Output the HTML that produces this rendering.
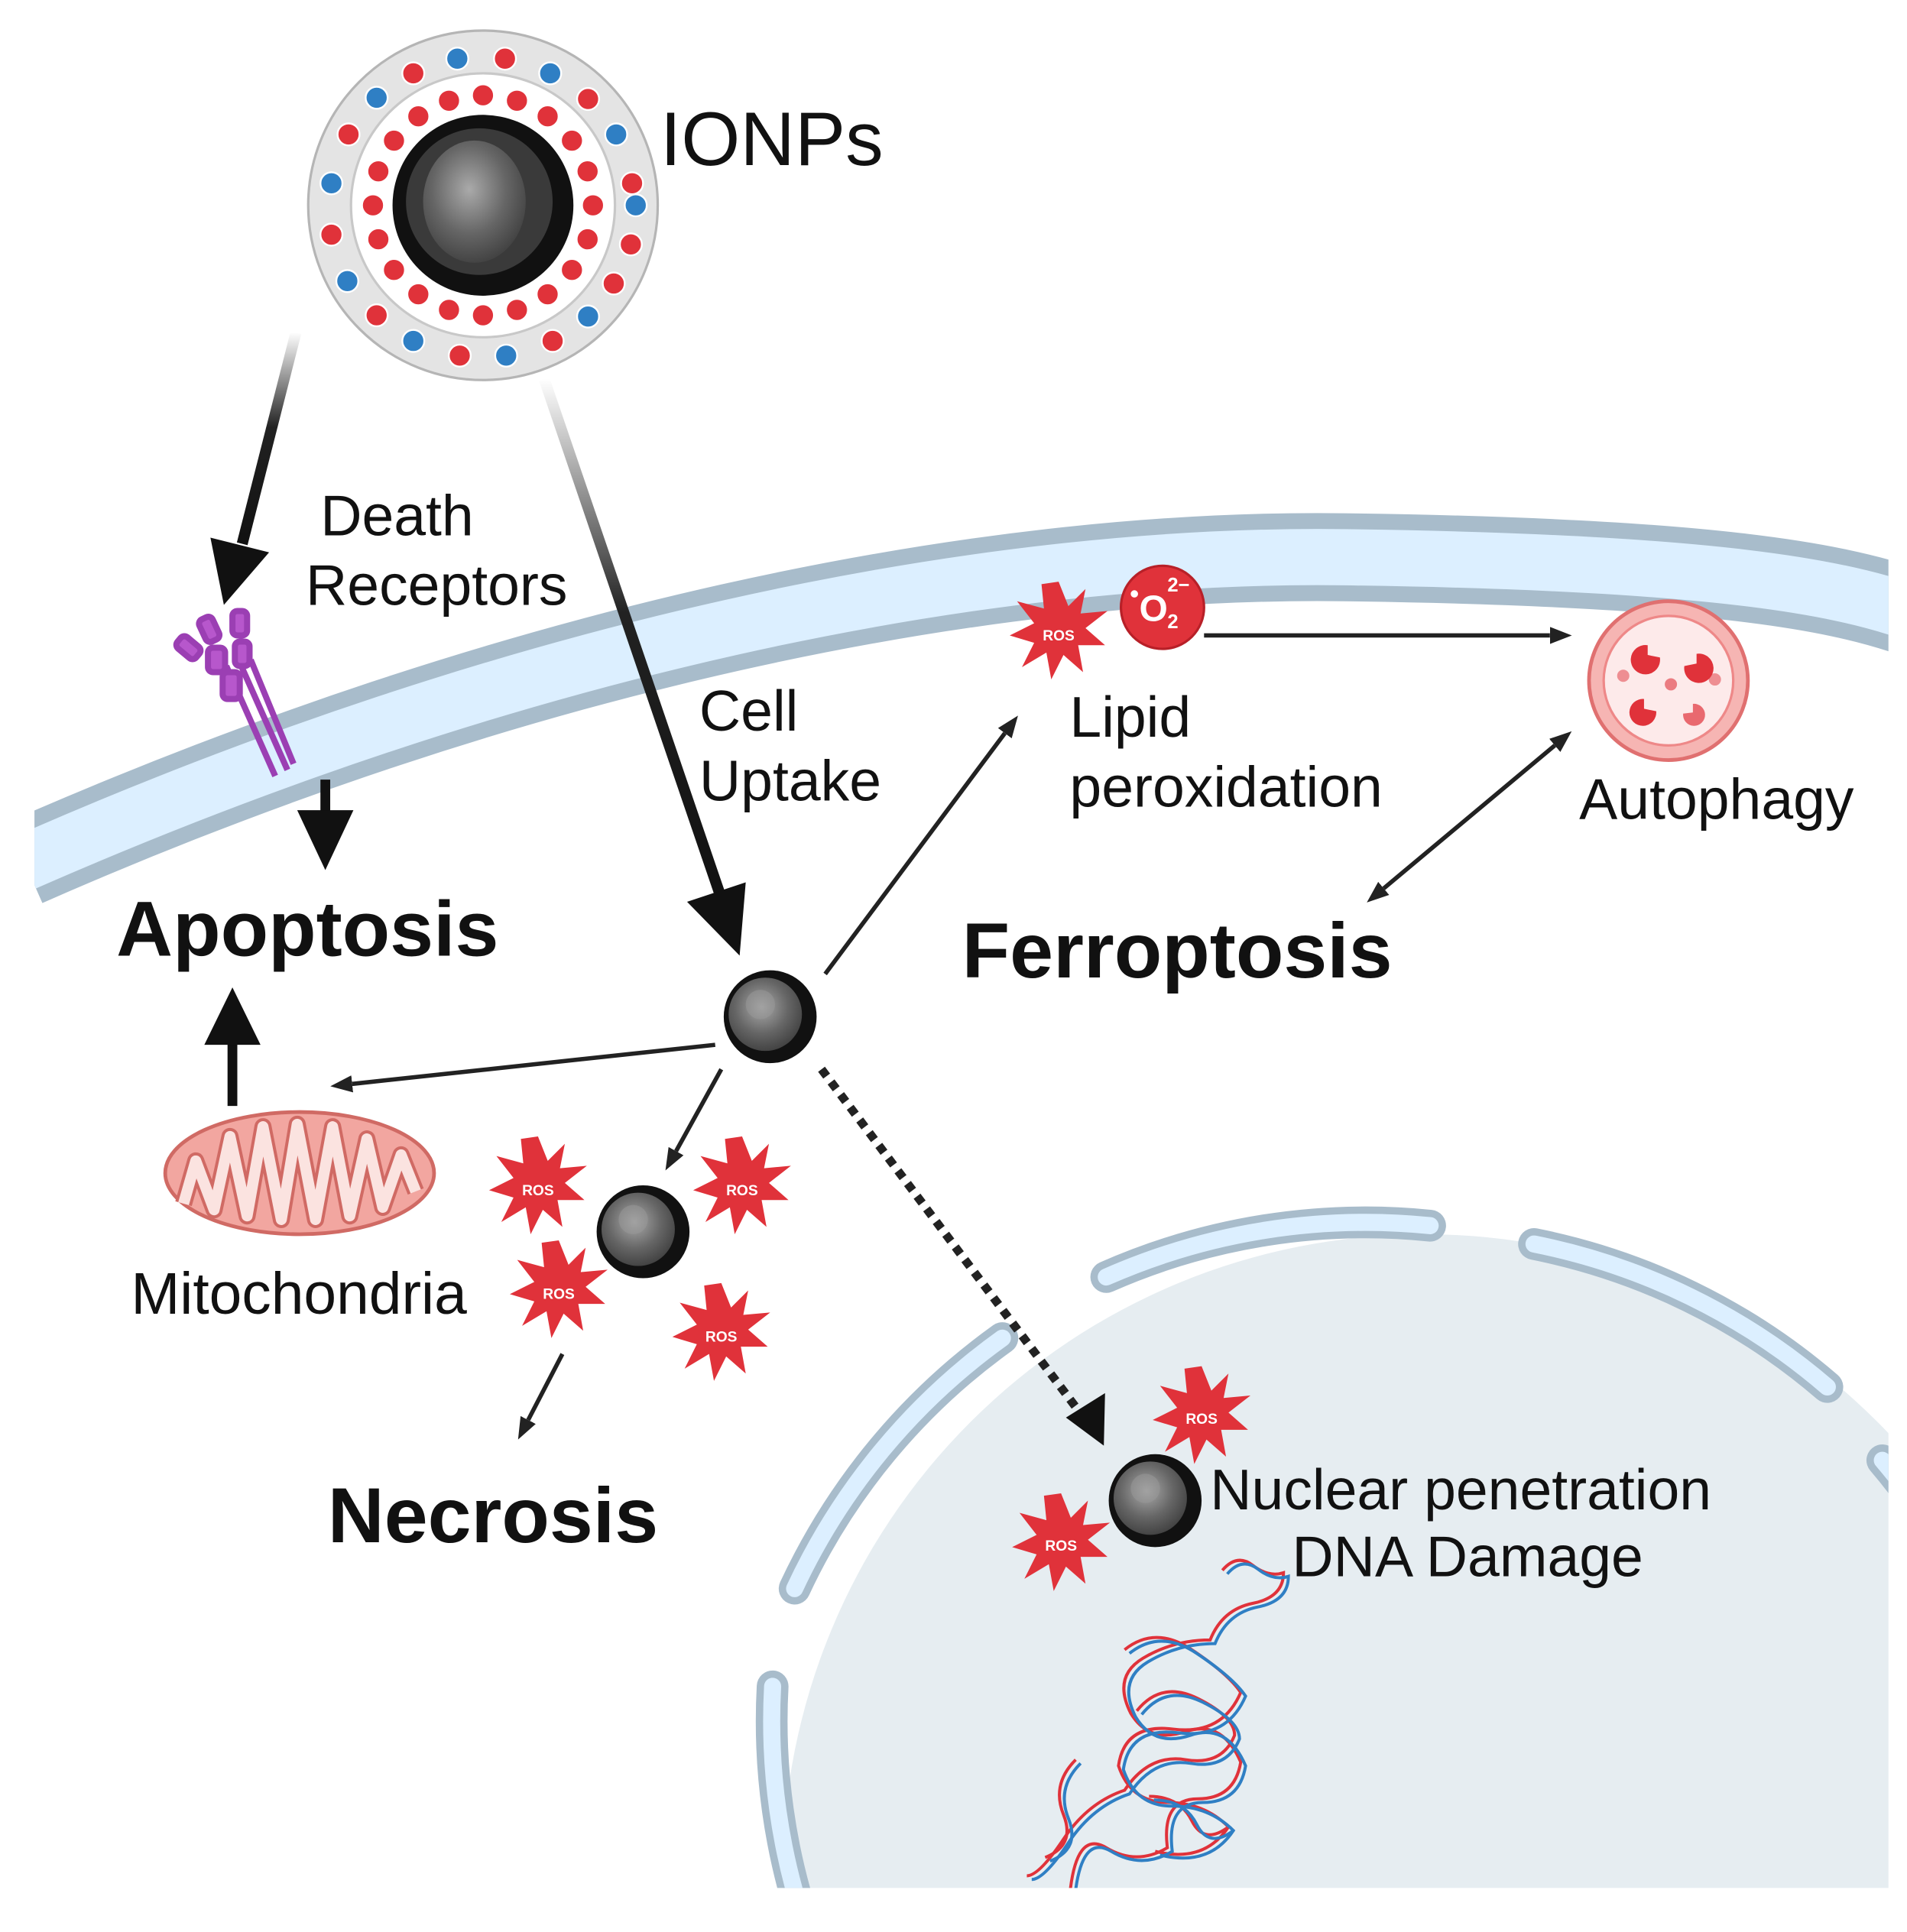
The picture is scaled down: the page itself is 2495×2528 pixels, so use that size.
<!DOCTYPE html>
<html><head><meta charset="utf-8"><style>
html,body{margin:0;padding:0;background:#fff;overflow:hidden}
svg{display:block}
text{font-family:"Liberation Sans",Arial,sans-serif;fill:#111}
</style></head><body>
<svg width="2495" height="2528" viewBox="0 0 1560 1581" xmlns="http://www.w3.org/2000/svg">
<defs>
<clipPath id="frame"><rect x="28" y="0" width="1517" height="1545"/></clipPath>
<linearGradient id="g1" x1="0" y1="0" x2="0" y2="1"><stop offset="0" stop-color="#fff"/><stop offset="0.45" stop-color="#222"/><stop offset="1" stop-color="#111"/></linearGradient>
<radialGradient id="np" cx="0.45" cy="0.4" r="0.6"><stop offset="0" stop-color="#aaa"/><stop offset="0.6" stop-color="#666"/><stop offset="1" stop-color="#444"/></radialGradient>
<marker id="ahs" markerWidth="18" markerHeight="14" refX="0" refY="7" orient="auto-start-reverse" markerUnits="userSpaceOnUse"><path d="M0,0 L18,7 L0,14 Z" fill="#222"/></marker>
<g id="star"><polygon points="0,-40 8,-20 22,-34 18,-14 40,-16 22,-2 38,12 16,12 20,34 4,20 -6,40 -10,18 -30,30 -20,10 -40,4 -20,-6 -34,-24 -12,-18 -14,-38" fill="#e0323a"/></g>
<g id="nps"><circle r="38" fill="#111"/><circle r="30" cx="-4" cy="-2" fill="url(#np)"/><circle r="12" cx="-8" cy="-10" fill="#999" opacity="0.5"/></g>
<path id="helix" d="M0 0 q4 -7 8 0 t8 0 t8 0 t8 0 t8 0 t8 0 t8 0 t8 0" fill="none"/>
</defs>
<rect width="1560" height="1581" fill="#fff"/>
<g clip-path="url(#frame)">
<circle cx="1165" cy="1535" r="525" fill="#e6edf1"/>
<g fill="none" stroke-linecap="round">
<g stroke="#a8bccb" stroke-width="26">
<path d="M650 1300 A525 525 0 0 1 820 1095"/>
<path d="M905 1045 A525 525 0 0 1 1170 1003"/>
<path d="M1255 1018 A525 525 0 0 1 1495 1135"/>
<path d="M1540 1195 A525 525 0 0 1 1560 1220"/>
<path d="M632 1380 A525 525 0 0 0 660 1580"/>
</g>
<g stroke="#dcefff" stroke-width="14">
<path d="M650 1300 A525 525 0 0 1 820 1095"/>
<path d="M905 1045 A525 525 0 0 1 1170 1003"/>
<path d="M1255 1018 A525 525 0 0 1 1495 1135"/>
<path d="M1540 1195 A525 525 0 0 1 1560 1220"/>
<path d="M632 1380 A525 525 0 0 0 660 1580"/>
</g>
</g>
<path d="M20 706 C 420 530, 800 452, 1100 456 S 1500 480, 1560 500" fill="none" stroke="#a8bccb" stroke-width="72"/>
<path d="M20 706 C 420 530, 800 452, 1100 456 S 1500 480, 1560 500" fill="none" stroke="#dcefff" stroke-width="46"/>
<!-- DNA tangle -->
<g stroke-width="2.5" fill="none">
<g stroke="#e0323a">
<path d="M1000 1285 q12 -14 25 -4 t25 6 q0 20 -25 25 t-35 30 q-30 0 -55 15 t-10 45 q15 25 45 15 t45 25 q-5 30 -35 30 t-25 40 q-25 15 -50 0 t-30 40 q-15 25 -20 45 t-25 25"/>
<path d="M930 1400 q20 -25 50 -10 t30 30 q-10 25 -40 20 t-50 25 q-30 10 -50 40 t-30 30"/>
<path d="M920 1350 q25 -20 55 0 t40 35 q-15 35 -55 30 t-45 30 q10 30 40 30 t50 20 q-20 30 -60 20"/>
<path d="M880 1440 q-20 20 -10 45 t-15 35 M940 1470 q25 0 35 20 t30 5"/>
</g>
<g stroke="#2f7fc4" transform="translate(4,3)">
<path d="M1000 1285 q12 -14 25 -4 t25 6 q0 20 -25 25 t-35 30 q-30 0 -55 15 t-10 45 q15 25 45 15 t45 25 q-5 30 -35 30 t-25 40 q-25 15 -50 0 t-30 40 q-15 25 -20 45 t-25 25"/>
<path d="M930 1400 q20 -25 50 -10 t30 30 q-10 25 -40 20 t-50 25 q-30 10 -50 40 t-30 30"/>
<path d="M920 1350 q25 -20 55 0 t40 35 q-15 35 -55 30 t-45 30 q10 30 40 30 t50 20 q-20 30 -60 20"/>
<path d="M880 1440 q-20 20 -10 45 t-15 35 M940 1470 q25 0 35 20 t30 5"/>
</g>
</g>
</g>
<!-- big IONP -->
<circle cx="395" cy="168" r="143" fill="#e4e4e4" stroke="#b5b5b5" stroke-width="2"/>
<circle cx="395" cy="168" r="108" fill="#fff" stroke="#c8c8c8" stroke-width="2"/>
<circle cx="395" cy="168" r="74" fill="#111"/>
<circle cx="392" cy="165" r="60" fill="#3a3a3a"/>
<ellipse cx="388" cy="165" rx="42" ry="50" fill="url(#np)"/>
<g fill="#e0323a" stroke="#fff" stroke-width="1.5">
<circle cx="485" cy="168" r="9"/><circle cx="480.6" cy="195.8" r="9"/><circle cx="467.8" cy="220.9" r="9"/><circle cx="447.9" cy="240.8" r="9"/><circle cx="422.8" cy="253.6" r="9"/><circle cx="395" cy="258" r="9"/><circle cx="367.2" cy="253.6" r="9"/><circle cx="342.1" cy="240.8" r="9"/><circle cx="322.2" cy="220.9" r="9"/><circle cx="309.4" cy="195.8" r="9"/><circle cx="305" cy="168" r="9"/><circle cx="309.4" cy="140.2" r="9"/><circle cx="322.2" cy="115.1" r="9"/><circle cx="342.1" cy="95.2" r="9"/><circle cx="367.2" cy="82.4" r="9"/><circle cx="395" cy="78" r="9"/><circle cx="422.8" cy="82.4" r="9"/><circle cx="447.9" cy="95.2" r="9"/><circle cx="467.8" cy="115.1" r="9"/><circle cx="480.6" cy="140.2" r="9"/>
</g>
<g stroke="#fff" stroke-width="1.5">
<circle cx="520" cy="168" r="9" fill="#2f7fc4"/><circle cx="516" cy="200" r="9" fill="#e0323a"/><circle cx="502" cy="232" r="9" fill="#e0323a"/><circle cx="481" cy="259" r="9" fill="#2f7fc4"/><circle cx="452" cy="279" r="9" fill="#e0323a"/><circle cx="414" cy="291" r="9" fill="#2f7fc4"/><circle cx="376" cy="291" r="9" fill="#e0323a"/><circle cx="338" cy="279" r="9" fill="#2f7fc4"/><circle cx="308" cy="258" r="9" fill="#e0323a"/><circle cx="284" cy="230" r="9" fill="#2f7fc4"/><circle cx="271" cy="192" r="9" fill="#e0323a"/><circle cx="271" cy="150" r="9" fill="#2f7fc4"/><circle cx="285" cy="110" r="9" fill="#e0323a"/><circle cx="308" cy="80" r="9" fill="#2f7fc4"/><circle cx="338" cy="60" r="9" fill="#e0323a"/><circle cx="374" cy="48" r="9" fill="#2f7fc4"/><circle cx="413" cy="48" r="9" fill="#e0323a"/><circle cx="450" cy="60" r="9" fill="#2f7fc4"/><circle cx="481" cy="81" r="9" fill="#e0323a"/><circle cx="504" cy="110" r="9" fill="#2f7fc4"/><circle cx="517" cy="150" r="9" fill="#e0323a"/>
</g>
<text x="540" y="135" font-size="62">IONPs</text>
<path d="M242 272 L198 445" stroke="url(#g1)" stroke-width="9" fill="none"/>
<polygon points="172,440 220,452 183,495" fill="#111"/>
<path d="M445 310 L590 735" stroke="url(#g1)" stroke-width="9" fill="none"/>
<polygon points="562,738 610,722 605,782" fill="#111"/>
<text x="262" y="438" font-size="47">Death</text>
<text x="250" y="495" font-size="47">Receptors</text>
<text x="572" y="598" font-size="47">Cell</text>
<text x="572" y="655" font-size="47">Uptake</text>
<g stroke="#9b3fb3" stroke-width="5" fill="#b757cc">
<line x1="185" y1="545" x2="225" y2="635"/><line x1="195" y1="540" x2="235" y2="630"/><line x1="205" y1="540" x2="240" y2="625"/>
<rect x="165" y="505" width="12" height="20" rx="4" transform="rotate(-25 171 515)"/>
<rect x="190" y="500" width="12" height="20" rx="4"/>
<rect x="148" y="520" width="12" height="20" rx="4" transform="rotate(-50 154 530)"/>
<rect x="170" y="530" width="14" height="20" rx="4"/>
<rect x="192" y="525" width="12" height="20" rx="4"/>
<rect x="182" y="550" width="14" height="22" rx="4"/>
</g>
<line x1="266" y1="638" x2="266" y2="665" stroke="#111" stroke-width="8"/>
<polygon points="243,663 289,663 266,712" fill="#111"/>
<line x1="190" y1="905" x2="190" y2="850" stroke="#111" stroke-width="8"/>
<polygon points="167,855 213,855 190,808" fill="#111"/>
<text x="95" y="782" font-size="64" font-weight="bold">Apoptosis</text>
<g stroke="#222" stroke-width="3.5" fill="none">
<line x1="675" y1="797" x2="822" y2="600" marker-end="url(#ahs)"/>
<line x1="985" y1="520" x2="1268" y2="520" marker-end="url(#ahs)"/>
<line x1="1132" y1="727" x2="1272" y2="610" marker-end="url(#ahs)" marker-start="url(#ahs)"/>
<line x1="585" y1="855" x2="288" y2="887" marker-end="url(#ahs)"/>
<line x1="590" y1="875" x2="553" y2="942" marker-end="url(#ahs)"/>
<line x1="460" y1="1108" x2="432" y2="1162" marker-end="url(#ahs)"/>
<line x1="672" y1="875" x2="888" y2="1162" stroke-width="7" stroke-dasharray="7,6"/>
</g>
<polygon points="872,1160 904,1140 903,1183" fill="#111"/>
<use href="#nps" x="630" y="832"/>
<use href="#nps" x="526" y="1008"/>
<use href="#nps" x="945" y="1228"/>
<g font-size="12" font-weight="bold" text-anchor="middle">
<use href="#star" x="440" y="970"/><text x="440" y="978" style="fill:#fff">ROS</text>
<use href="#star" x="607" y="970"/><text x="607" y="978" style="fill:#fff">ROS</text>
<use href="#star" x="457" y="1055"/><text x="457" y="1063" style="fill:#fff">ROS</text>
<use href="#star" x="590" y="1090"/><text x="590" y="1098" style="fill:#fff">ROS</text>
<use href="#star" x="866" y="516"/><text x="866" y="524" style="fill:#fff">ROS</text>
<use href="#star" x="983" y="1158"/><text x="983" y="1165" style="fill:#fff">ROS</text>
<use href="#star" x="868" y="1262"/><text x="868" y="1269" style="fill:#fff">ROS</text>
</g>
<circle cx="951" cy="497" r="34" fill="#e0323a" stroke="#b82028" stroke-width="2"/>
<text x="932" y="508" font-size="30" font-weight="bold" style="fill:#fff">O</text>
<text x="955" y="514" font-size="16" font-weight="bold" style="fill:#fff">2</text>
<text x="955" y="484" font-size="16" font-weight="bold" style="fill:#fff">2−</text>
<circle cx="928" cy="486" r="3" fill="#fff"/>
<text x="875" y="603" font-size="47">Lipid</text>
<text x="875" y="660" font-size="47">peroxidation</text>
<circle cx="1365" cy="557" r="65" fill="#f6b5b3" stroke="#e07070" stroke-width="3"/>
<circle cx="1365" cy="557" r="53" fill="#fdeaea" stroke="#e88" stroke-width="2"/>
<g fill="#e0323a"><path d="M1348 528 a12 12 0 1 0 10 10 l-10 -2z"/><path d="M1388 535 a12 12 0 1 1 -10 10 l10 -2z"/><path d="M1345 572 a11 11 0 1 0 10 10 l-10 -2z"/><path d="M1385 576 a9 9 0 1 1 -8 8 l8 -1z" opacity="0.7"/><circle cx="1328" cy="553" r="5" opacity="0.5"/><circle cx="1403" cy="556" r="5" opacity="0.5"/><circle cx="1367" cy="560" r="5" opacity="0.6"/></g>
<text x="1292" y="670" font-size="47">Autophagy</text>
<text x="787" y="800" font-size="64" font-weight="bold">Ferroptosis</text>
<!-- mitochondria -->
<ellipse cx="245" cy="960" rx="110" ry="50" fill="#f2a6a0" stroke="#d06a64" stroke-width="3"/>
<path d="M150 985 L160 950 L175 990 L188 930 L202 995 L215 922 L230 998 L243 920 L258 998 L272 922 L286 995 L300 932 L313 988 L328 945 L340 975" fill="none" stroke="#d06a64" stroke-width="14" stroke-linejoin="round"/>
<path d="M150 985 L160 950 L175 990 L188 930 L202 995 L215 922 L230 998 L243 920 L258 998 L272 922 L286 995 L300 932 L313 988 L328 945 L340 975" fill="none" stroke="#fbe3e0" stroke-width="9" stroke-linejoin="round"/>
<text x="107" y="1075" font-size="48">Mitochondria</text>
<text x="268" y="1262" font-size="64" font-weight="bold">Necrosis</text>
<text x="990" y="1235" font-size="47">Nuclear penetration</text>
<text x="1057" y="1290" font-size="47">DNA Damage</text>
</svg>
</body></html>
